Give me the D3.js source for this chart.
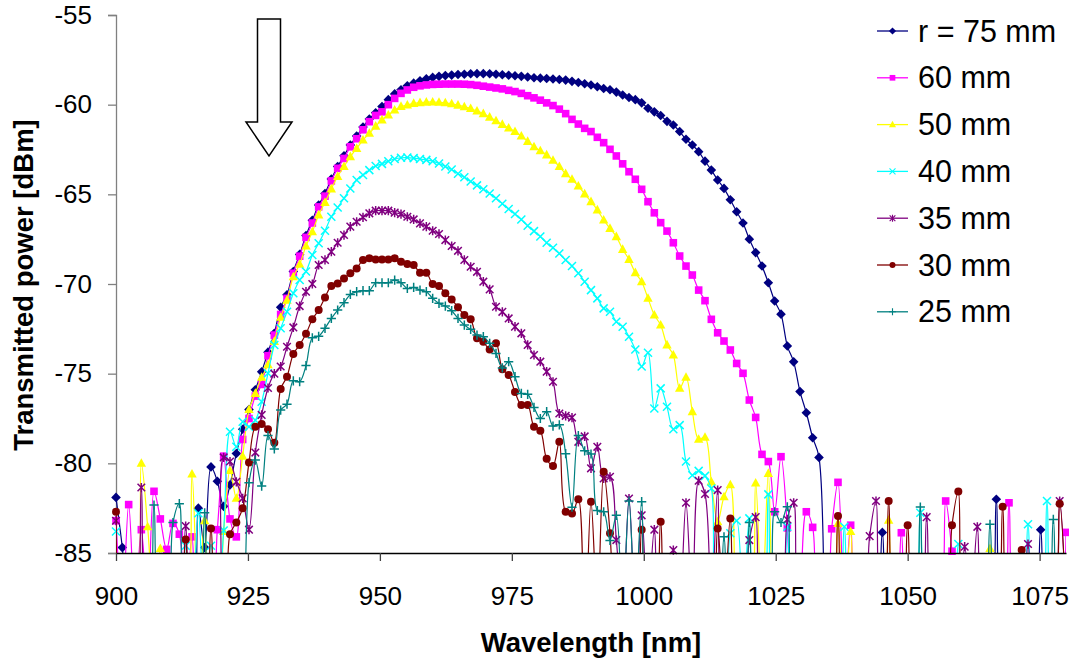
<!DOCTYPE html>
<html>
<head>
<meta charset="utf-8">
<script src="https://cdn.jsdelivr.net/npm/d3@7"></script>
<style>
  body { margin: 0; background: #fff; }
  svg { display: block; font-family: "Liberation Sans", Arial, sans-serif; }
</style>
</head>
<body>
<div id="chart"></div>
<script>
// OSA sweep grid
const wlStart = 900;
const wlStep = 1.2;

const seriesNames = ["r = 75 mm", "60 mm", "50 mm", "40 mm", "35 mm", "30 mm", "25 mm"];
const seriesColors = ["#000080", "#FF00FF", "#FFFF00", "#00FFFF", "#800080", "#800000", "#008080"];
const seriesMarkers = ["diamond", "square", "triangle", "x", "star", "circle", "plus"];

const xTicks = [900, 925, 950, 975, 1000, 1025, 1050, 1075];
const yTicks = [-85, -80, -75, -70, -65, -60, -55];

// transmitted power [dBm], one value per sweep point (values below -85 fall off the chart)
const r75 = [
  -81.9, -84.7, -88, -88, -88, -88, -88, -88, -88, -88,
  -88, -88, -88, -82.5, -84.7, -80.2, -81.0, -82.4, -81.2, -79.45,
  -78.1, -77.0, -75.9, -74.9, -73.8, -72.75, -71.3, -70.6, -69.3, -68.35,
  -67.3, -66.45, -65.6, -64.95, -64.15, -63.45, -62.85, -62.25, -61.75, -61.25,
  -60.8, -60.45, -60.1, -59.72, -59.4, -59.17, -58.95, -58.8, -58.67, -58.56,
  -58.48, -58.42, -58.38, -58.35, -58.32, -58.3, -58.28, -58.27, -58.27, -58.28,
  -58.3, -58.33, -58.36, -58.39, -58.42, -58.46, -58.5, -58.52, -58.54, -58.57,
  -58.6, -58.63, -58.7, -58.76, -58.83, -58.9, -59.0, -59.1, -59.17, -59.3,
  -59.46, -59.6, -59.72, -59.9, -60.2, -60.4, -60.6, -60.93, -61.13, -61.5,
  -61.93, -62.25, -62.62, -63.15, -63.65, -64.2, -64.67, -65.3, -65.97, -66.6,
  -67.5, -68.25, -69.0, -69.93, -70.95, -71.68, -73.46, -74.34, -76.0, -77.18,
  -78.57, -79.67, -110, -95, -88, -88, -88, -88, -88, -88,
  -88, -83.85, -88, -88, -88, -88, -88, -88, -88, -88,
  -88, -88, -88, -88, -88, -88, -88, -88, -88, -82.0,
  -88, -88, -88, -88, -88, -88, -83.7, -88, -88, -88,
  -88
];
const r60 = [
  -83.2, -88, -82.3, -88, -83.7, -88, -81.56, -83.1, -84.8, -83.35,
  -83.95, -88, -84.1, -88, -88, -88, -83.7, -79.6, -83.1, -84.1,
  -78.67, -77.5, -76.25, -75.6, -74.0, -72.85, -71.7, -70.8, -69.4, -68.45,
  -67.4, -66.6, -65.7, -65.1, -64.25, -63.55, -63.0, -62.35, -61.9, -61.4,
  -60.95, -60.6, -60.4, -60.0, -59.65, -59.37, -59.18, -59.03, -58.95, -58.9,
  -58.87, -58.86, -58.85, -58.85, -58.85, -58.86, -58.88, -58.92, -58.97, -59.02,
  -59.07, -59.12, -59.2, -59.27, -59.37, -59.5, -59.62, -59.75, -59.9, -60.05,
  -60.25, -60.5, -60.82, -61.08, -61.32, -61.5, -61.82, -62.12, -62.49, -62.86,
  -63.3, -63.74, -64.16, -64.72, -65.41, -66.03, -66.58, -67.05, -67.7, -68.44,
  -69.0, -69.5, -70.34, -70.93, -71.97, -72.72, -73.18, -73.68, -74.43, -74.98,
  -76.47, -77.44, -79.5, -79.9, -82.7, -79.63, -83.6, -92, -88, -82.7,
  -83.57, -88, -88, -83.65, -81.06, -88, -83.45, -88, -88, -88,
  -88, -88, -88, -88, -83.87, -88, -88, -88, -88, -88,
  -88, -82.1, -84.9, -88, -88, -88, -88, -88, -88, -88,
  -88, -82.2, -88, -88, -88, -88, -88, -88, -88, -88,
  -83.85
];
const r50 = [
  -88, -88, -88, -88, -80.0, -83.54, -88, -84.75, -88, -88,
  -88, -88, -80.6, -88, -83.2, -88, -88, -83.8, -80.4, -81.95,
  -79.6, -77.0, -76.1, -75.2, -74.5, -73.2, -71.86, -70.9, -69.6, -68.9,
  -67.88, -67.09, -66.15, -65.45, -64.7, -64.0, -63.45, -62.9, -62.44, -61.97,
  -61.6, -61.2, -60.85, -60.58, -60.3, -60.1, -60.02, -59.93, -59.89, -59.86,
  -59.85, -59.87, -59.9, -59.95, -60.03, -60.12, -60.22, -60.36, -60.5, -60.7,
  -60.9, -61.1, -61.3, -61.5, -61.75, -62.05, -62.35, -62.57, -62.8, -63.1,
  -63.45, -63.85, -64.16, -64.54, -64.98, -65.41, -65.87, -66.43, -66.9, -67.36,
  -68.07, -68.63, -69.37, -69.87, -70.8, -71.73, -72.29, -73.4, -73.96, -75.82,
  -75.2, -77.12, -78.66, -78.55, -81.03, -83.26, -81.87, -81.2, -90, -88,
  -88, -81.1, -88, -80.56, -90, -88, -88, -88, -88, -88,
  -88, -88, -88, -88, -83.35, -88, -83.8, -88, -88, -88,
  -88, -88, -83.17, -88, -88, -88, -88, -88, -88, -88,
  -88, -88, -88, -88, -88, -88, -88, -88, -84.75, -88,
  -88, -88, -88, -88, -88, -88, -88, -88, -88, -88,
  -88
];
const r40 = [
  -83.8, -88, -88, -88, -88, -88, -88, -88, -88, -88,
  -88, -84.6, -88, -82.78, -88, -84.6, -88, -83.75, -78.24, -79.08,
  -77.68, -77.96, -77.6, -76.57, -74.98, -73.4, -72.47, -71.55, -70.52, -69.78,
  -69.3, -68.38, -67.73, -67.03, -66.25, -65.73, -65.22, -64.67, -64.2, -63.92,
  -63.65, -63.42, -63.3, -63.15, -63.03, -62.96, -62.95, -62.98, -63.03, -63.08,
  -63.15, -63.28, -63.45, -63.62, -63.85, -64.05, -64.28, -64.5, -64.72, -64.95,
  -65.22, -65.52, -65.82, -66.1, -66.4, -66.75, -67.05, -67.35, -67.7, -67.98,
  -68.3, -68.66, -69.0, -69.4, -69.87, -70.34, -70.8, -71.36, -71.55, -72.1,
  -72.38, -72.94, -73.65, -74.6, -73.83, -76.94, -75.82, -76.85, -78.1, -77.87,
  -79.9, -80.66, -80.42, -80.7, -81.4, -88, -88, -83.9, -83.2, -88,
  -83.07, -88, -88, -81.73, -88, -88, -83.54, -88, -88, -88,
  -88, -88, -88, -88, -88, -83.54, -88, -88, -88, -88,
  -88, -88, -88, -88, -88, -88, -88, -82.76, -88, -88,
  -88, -88, -88, -84.5, -88, -88, -88, -88, -88, -88,
  -88, -88, -88, -88, -83.4, -88, -88, -82.1, -88, -88,
  -88
];
const r35 = [
  -83.2, -88, -88, -88, -81.35, -88, -88, -88, -88, -88,
  -88, -83.5, -88, -88, -88, -88, -88, -79.67, -79.9, -81.03,
  -81.95, -83.7, -79.4, -77.3, -75.8, -75.0, -74.6, -73.5, -72.42, -71.23,
  -70.43, -70.0, -68.94, -68.66, -68.2, -67.7, -67.27, -66.8, -66.53, -66.28,
  -66.06, -65.91, -65.91, -65.91, -66.02, -66.1, -66.25, -66.4, -66.62, -66.8,
  -67.03, -67.21, -67.55, -67.88, -68.15, -68.66, -69.04, -69.32, -69.87, -70.3,
  -71.27, -71.55, -71.92, -72.38, -72.75, -73.4, -73.96, -74.33, -74.89, -75.45,
  -77.22, -77.35, -77.45, -78.8, -78.5, -80.28, -79.08, -80.84, -80.75, -84.28,
  -88, -81.96, -88, -82.9, -88, -83.7, -88, -88, -84.84, -88,
  -82.2, -88, -80.97, -81.71, -88, -81.49, -88, -88, -88, -88,
  -84.28, -83.0, -88, -88, -88, -88, -83.13, -82.2, -88, -88,
  -88, -88, -88, -88, -88, -88, -88, -88, -88, -84.06,
  -82.1, -88, -88, -88, -88, -88, -88, -88, -83.0, -88,
  -88, -88, -88, -88, -84.65, -88, -83.54, -88, -88, -88,
  -88, -88, -88, -88, -84.5, -88, -88, -88, -88, -82.1,
  -88
];
const r30 = [
  -82.7, -88, -88, -88, -88, -88, -88, -88, -88, -88,
  -88, -84.25, -88, -88, -88, -83.63, -88, -88, -83.95, -83.3,
  -82.5, -79.95, -77.96, -77.8, -78.1, -78.85, -75.85, -75.17, -73.9, -73.4,
  -72.78, -71.97, -71.45, -70.75, -70.11, -69.97, -69.69, -69.4, -69.13, -68.66,
  -68.57, -68.63, -68.63, -68.63, -68.57, -68.76, -68.89, -68.94, -69.37, -69.37,
  -70.0, -70.11, -70.52, -70.86, -71.3, -71.73, -71.97, -73.03, -73.22, -73.65,
  -73.3, -74.75, -75.08, -76.02, -76.75, -76.75, -77.96, -78.18, -79.75, -80.15,
  -78.8, -82.7, -82.8, -82.0, -90, -82.14, -88, -80.47, -83.9, -90,
  -88, -88, -88, -83.7, -88, -88, -83.26, -88, -88, -88,
  -88, -88, -88, -88, -88, -83.63, -88, -83.07, -88, -88,
  -88, -88, -88, -88, -88, -88, -88, -88, -88, -88,
  -88, -88, -88, -88, -82.93, -88, -88, -88, -88, -88,
  -88, -88, -82.1, -88, -88, -83.45, -88, -88, -88, -88,
  -88, -88, -83.45, -81.57, -88, -88, -88, -88, -88, -88,
  -82.42, -88, -88, -84.83, -88, -88, -88, -88, -88, -82.25,
  -88
];
const r25 = [
  -88, -88, -88, -88, -88, -88, -82.33, -88, -88, -83.3,
  -82.25, -88, -88, -88, -82.76, -88, -88, -88, -88, -88,
  -90, -81.08, -79.82, -81.27, -78.45, -79.2, -77.03, -76.7, -75.4, -75.45,
  -74.55, -73.0, -72.92, -72.47, -71.92, -71.45, -71.04, -70.58, -70.43, -70.37,
  -70.37, -69.93, -69.93, -69.93, -69.78, -69.93, -70.25, -70.19, -70.34, -70.43,
  -70.8, -71.08, -71.23, -71.49, -71.92, -72.29, -72.53, -72.85, -72.94, -73.31,
  -73.87, -74.68, -74.33, -75.17, -76.1, -76.15, -76.88, -77.5, -77.12, -77.92,
  -77.85, -79.46, -82.45, -78.45, -79.3, -79.48, -82.63, -82.7, -84.3, -82.9,
  -88, -82.1, -88, -82.14, -88, -88, -88, -88, -88, -88,
  -88, -88, -88, -88, -88, -88, -84.1, -88, -88, -88,
  -83.3, -88, -88, -88, -82.7, -83.3, -82.42, -88, -88, -88,
  -88, -88, -88, -88, -88, -88, -88, -88, -88, -88,
  -88, -88, -88, -88, -88, -88, -88, -82.44, -88, -88,
  -88, -88, -88, -88, -88, -88, -88, -88, -83.4, -88,
  -88, -88, -88, -88, -88, -88, -88, -88, -83.13, -88,
  -88
];

const seriesValues = [r75, r60, r50, r40, r35, r30, r25];

const width = 1069;
const height = 659;
const margin = { top: 15, right: 3, bottom: 106, left: 116 };

const x = d3.scaleLinear().domain([900, 1080]).range([margin.left, width - margin.right]);
const y = d3.scaleLinear().domain([-85, -55]).range([height - margin.bottom, margin.top]);

const svg = d3.select("#chart")
    .append("svg")
    .attr("width", width)
    .attr("height", height);

svg.append("defs")
    .append("clipPath")
    .attr("id", "plotClip")
    .append("rect")
    .attr("x", x(900))
    .attr("y", 0)
    .attr("width", x(1080) - x(900))
    .attr("height", y(-85));

// marker shapes (Excel style)
function markerPath(kind) {
    switch (kind) {
        case "diamond": return "M0,-4.8L4.8,0L0,4.8L-4.8,0Z";
        case "square": return "M-3.8,-3.8H3.8V3.8H-3.8Z";
        case "triangle": return "M0,-5.1L4.7,3.5H-4.7Z";
        case "x": return "M-4,-4L4,4M-4,4L4,-4";
        case "star": return "M-3.8,-3.8L3.8,3.8M-3.8,3.8L3.8,-3.8M0,-4.6V4.6";
        case "plus": return "M-4.6,0H4.6M0,-4.6V4.6";
    }
    return null;
}
const strokedMarker = k => k === "x" || k === "star" || k === "plus";

function drawMarker(sel, kind, color) {
    if (kind === "circle") {
        sel.append("circle").attr("r", 4).attr("fill", color);
    } else if (strokedMarker(kind)) {
        sel.append("path").attr("d", markerPath(kind))
            .attr("fill", "none").attr("stroke", color).attr("stroke-width", 1.5);
    } else {
        sel.append("path").attr("d", markerPath(kind)).attr("fill", color);
    }
}

// axes
const yAxis = d3.axisLeft(y)
    .tickValues(yTicks)
    .tickSize(8)
    .tickPadding(16)
    .tickFormat(d => String(d));

const gy = svg.append("g")
    .attr("transform", "translate(" + margin.left + ",0)")
    .call(yAxis);
gy.select(".domain").attr("stroke", "#808080").attr("stroke-width", 1.3);
gy.selectAll(".tick line").attr("stroke", "#808080").attr("stroke-width", 1.3);
gy.selectAll(".tick text")
    .attr("font-size", 26)
    .attr("font-family", "Liberation Sans, Arial, sans-serif")
    .attr("fill", "#000");

const xAxis = d3.axisBottom(x)
    .tickValues(xTicks)
    .tickSize(8)
    .tickSizeOuter(0)
    .tickPadding(26)
    .tickFormat(d => String(d));

const plotG = svg.append("g");

const line = d3.line()
    .x((d, i) => x(wlStart + i * wlStep))
    .y(d => y(d))
    .curve(d3.curveCatmullRom.alpha(0.5));

seriesValues.forEach((vals, s) => {
    const g = plotG.append("g").attr("class", "series");
    g.append("path")
        .datum(vals)
        .attr("clip-path", "url(#plotClip)")
        .attr("fill", "none")
        .attr("stroke", seriesColors[s])
        .attr("stroke-width", 1.2)
        .attr("d", line);

    const pts = vals
        .map((v, i) => ({ wl: wlStart + i * wlStep, v: v }))
        .filter(p => p.v >= -85.05);

    g.selectAll("g.mk")
        .data(pts)
        .join("g")
        .attr("class", "mk")
        .attr("transform", d => "translate(" + x(d.wl) + "," + y(d.v) + ")")
        .each(function () { drawMarker(d3.select(this), seriesMarkers[s], seriesColors[s]); });
});

const gx = svg.append("g")
    .attr("transform", "translate(0," + y(-85) + ")")
    .call(xAxis);
gx.select(".domain").attr("stroke", "#000").attr("stroke-width", 1.3);
gx.selectAll(".tick line").attr("stroke", "#404040").attr("stroke-width", 1.3);
gx.selectAll(".tick text")
    .attr("font-size", 26)
    .attr("font-family", "Liberation Sans, Arial, sans-serif")
    .attr("fill", "#000");

// axis titles
svg.append("text")
    .attr("x", 591)
    .attr("y", 652)
    .attr("text-anchor", "middle")
    .attr("font-size", 27.5)
    .attr("font-weight", "bold")
    .text("Wavelength [nm]");

svg.append("text")
    .attr("transform", "translate(33,285) rotate(-90)")
    .attr("text-anchor", "middle")
    .attr("font-size", 27.5)
    .attr("font-weight", "bold")
    .text("Transmitted power [dBm]");

// the hollow arrow
svg.append("path")
    .attr("d", "M257.5,19H280.5V122H292L269,156L246,122H257.5Z")
    .attr("fill", "#fff")
    .attr("stroke", "#000")
    .attr("stroke-width", 1.5);

// legend
const legend = svg.append("g").attr("transform", "translate(877,31)");
seriesNames.forEach((name, s) => {
    const row = legend.append("g").attr("transform", "translate(0," + (s * 46.8) + ")");
    row.append("line")
        .attr("x1", 0).attr("x2", 31)
        .attr("stroke", seriesColors[s])
        .attr("stroke-width", 1.3);
    const m = row.append("g").attr("transform", "translate(15.5,0) scale(0.75)");
    drawMarker(m, seriesMarkers[s], seriesColors[s]);
    row.append("text")
        .attr("x", 41)
        .attr("y", 10.5)
        .attr("font-size", 30.5)
        .text(name);
});
</script>
</body>
</html>
